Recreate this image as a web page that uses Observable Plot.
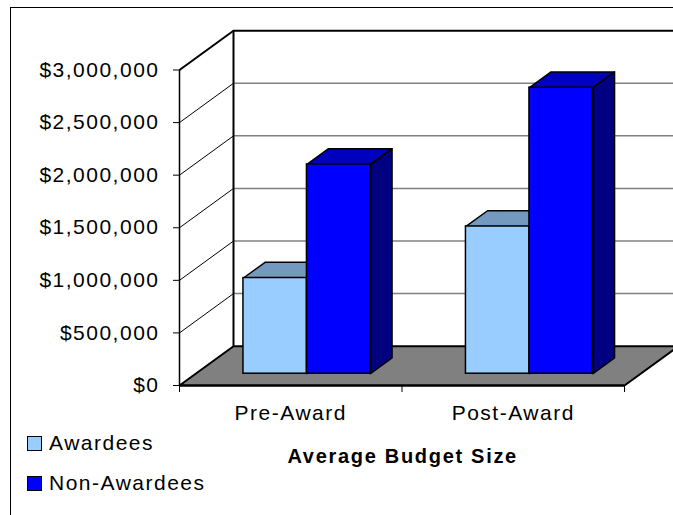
<!DOCTYPE html>
<html>
<head>
<meta charset="utf-8">
<script src="https://cdn.jsdelivr.net/npm/d3@7"></script>
<script src="https://cdn.jsdelivr.net/npm/@observablehq/plot@0.6"></script>
<style>
  html, body { margin: 0; padding: 0; background: #fff; }
  body { width: 673px; height: 515px; overflow: hidden; position: relative; font-family: "Liberation Sans", Arial, sans-serif; }
  #chart { position: absolute; left: 0; top: 0; }
  #chart svg { background: #fff; }
  #chart svg text { letter-spacing: 1.5px; }
  .frame { position: absolute; left: 10px; top: 7px; width: 800px; height: 600px; border: 1.5px solid #000; pointer-events: none; }
  .sw { position: absolute; left: 27px; width: 13px; height: 13px; border: 1px solid #000; }
  .lt { position: absolute; left: 49px; font-size: 21px; line-height: 21px; letter-spacing: 1.5px; color: #000; white-space: nowrap; }
  .title { position: absolute; left: 201px; width: 400px; top: 446px; text-align: center; font-weight: bold; font-size: 20px; line-height: 20px; letter-spacing: 1.7px; padding-left: 1.7px; color: #000; }
</style>
</head>
<body>
<div id="chart"></div>
<div id="legend"></div>
<div class="title" id="title"></div>
<div class="frame"></div>
<script>
// ---- data ----
const categories = ["Pre-Award", "Post-Award"];
const series = ["Awardees", "Non-Awardees"];
const awardees = [910000, 1400000];
const nonAwardees = [1990000, 2720000];
const yTicks = [0, 500000, 1000000, 1500000, 2000000, 2500000, 3000000];
const xTitle = "Average Budget Size";

// ---- style / geometry ----
const W = 673, H = 430;
const mLeft = 179, mRight = 49, mTop = 69.5, mBottom = 45;
const frontColors = ["#99CCFF", "#0000FF"];
const topColors = ["#7399BF", "#0000BF"];
const sideColors = ["#4D6680", "#000080"];
const yMax = yTicks[yTicks.length - 1];
const nCat = categories.length;
const pxPerCat = (W - mLeft - mRight) / nCat;
const pxPerVal = (H - mBottom - mTop) / yMax;
const DX = 54 / pxPerCat;          // depth offset in x units
const DY = 39.3 / pxPerVal;        // depth offset in value units
const barW = 0.2854;               // bar width in category units
const f0 = 0.3, f1 = 0.7;          // bar depth range

const values = [awardees, nonAwardees];
const bars = [];
categories.forEach((c, ci) => {
  series.forEach((s, si) => {
    const x0 = ci + 0.5 - barW + si * barW;
    bars.push({id: c + "|" + s, ci, si, v: values[si][ci], x0, x1: x0 + barW});
  });
});
const ox0 = f0 * DX, oy0 = f0 * DY, ox1 = f1 * DX, oy1 = f1 * DY;
const tops = bars.flatMap(b => [
  [b.x0 + ox0, b.v + oy0], [b.x1 + ox0, b.v + oy0], [b.x1 + ox1, b.v + oy1], [b.x0 + ox1, b.v + oy1]
].map(([x, y]) => ({id: b.id, x, y, fill: topColors[b.si]})));
const sides = bars.flatMap(b => [
  [b.x1 + ox0, oy0], [b.x1 + ox1, oy1], [b.x1 + ox1, b.v + oy1], [b.x1 + ox0, b.v + oy0]
].map(([x, y]) => ({id: b.id, x, y, fill: sideColors[b.si]})));

const floor = [[0, 0], [nCat, 0], [nCat + DX, DY], [DX, DY]].map(([x, y]) => ({x, y}));
const inner = yTicks.filter(t => t > 0 && t < yMax);

const plot = Plot.plot({
  width: W, height: H,
  marginLeft: mLeft, marginRight: mRight, marginTop: mTop, marginBottom: mBottom,
  x: {domain: [0, nCat], axis: null},
  y: {domain: [0, yMax], axis: null},
  color: {type: "identity"},
  style: {fontFamily: "'Liberation Sans', Arial, sans-serif", fontSize: "21px", color: "#000", background: "#fff"},
  marks: [
    // back wall gridlines
    Plot.ruleY(inner, {y: d => d + DY, x1: DX, x2: nCat + DX, stroke: "#808080", strokeWidth: 1.5, strokeOpacity: 1}),
    // left wall gridlines
    Plot.link(inner, {x1: 0, y1: d => d, x2: DX, y2: d => d + DY, stroke: "#000", strokeWidth: 1}),
    // back wall edges
    Plot.ruleY([yMax], {y: d => d + DY, x1: DX, x2: nCat + DX, stroke: "#000", strokeWidth: 2}),
    Plot.ruleX([DX], {y1: DY, y2: yMax + DY, stroke: "#000", strokeWidth: 2}),
    Plot.link([yMax], {x1: 0, y1: d => d, x2: DX, y2: d => d + DY, stroke: "#000", strokeWidth: 2}),
    // floor
    Plot.line(floor, {x: "x", y: "y", fill: "#808080", stroke: "#000", strokeWidth: 2, curve: "linear-closed"}),
    // front-left axis line
    Plot.ruleX([0], {y1: 0, y2: yMax, stroke: "#000", strokeWidth: 1.5}),
    // bars
    Plot.line(tops, {x: "x", y: "y", z: "id", fill: "fill", stroke: "#000", strokeWidth: 1.5, curve: "linear-closed"}),
    Plot.line(sides, {x: "x", y: "y", z: "id", fill: "fill", stroke: "#000", strokeWidth: 1.5, curve: "linear-closed"}),
    Plot.rect(bars, {x1: d => d.x0 + ox0, x2: d => d.x1 + ox0, y1: oy0, y2: d => d.v + oy0, fill: d => frontColors[d.si], stroke: "#000", strokeWidth: 1.5}),
    // axes
    Plot.axisY({ticks: yTicks, tickFormat: d3.format("$,"), tickSize: 6, tickPadding: 14, anchor: "left", label: null, fontSize: 21}),
    Plot.axisX({ticks: d3.range(nCat + 1), tickFormat: () => "", tickSize: 7, anchor: "bottom", label: null}),
    Plot.ruleY([0], {x1: 0, x2: nCat, stroke: "#000", strokeWidth: 2}),
    Plot.text(categories, {x: (d, i) => i + 0.5, y: 0, dy: 28, text: d => d, fontSize: 21, fill: "#000"})
  ]
});
document.getElementById("chart").appendChild(plot);

// legend
const legend = document.getElementById("legend");
const legTops = [432, 472];
series.forEach((s, i) => {
  const sw = document.createElement("div");
  sw.className = "sw";
  sw.style.top = (legTops[i] + 4) + "px";
  sw.style.background = frontColors[i];
  legend.appendChild(sw);
  const t = document.createElement("div");
  t.className = "lt";
  t.style.top = legTops[i] + "px";
  t.textContent = s;
  legend.appendChild(t);
});
document.getElementById("title").textContent = xTitle;
</script>
</body>
</html>
